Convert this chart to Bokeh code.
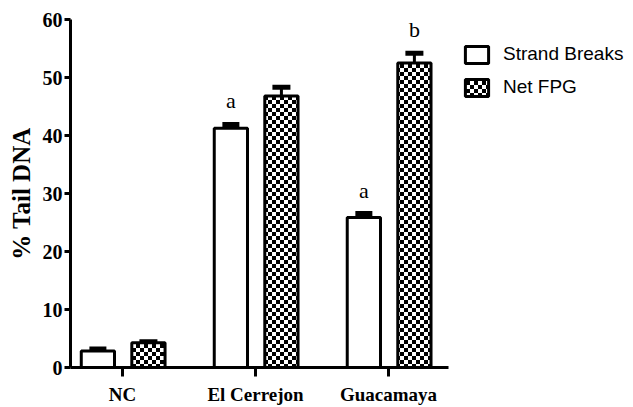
import base64, struct, zlib
from bokeh.plotting import figure
from bokeh.models import (ColumnDataSource, Range1d, FixedTicker, Whisker, TeeHead,
                          LabelSet, Legend, LegendItem, ImageURLTexture)
from bokeh.core.properties import value
from bokeh.embed import file_html
from bokeh.resources import INLINE

# ---- data ----
groups = ["NC", "El Cerrejon", "Guacamaya"]
series = ["Strand Breaks", "Net FPG"]
strand = [2.85, 41.25, 25.85]
strand_err = [0.35, 0.65, 0.7]
fpg = [4.25, 46.8, 52.5]
fpg_err = [0.2, 1.5, 1.7]
strand_letters = ["", "a", "a"]
fpg_letters = ["", "", "b"]
y_ticks = [0, 10, 20, 30, 40, 50, 60]

# ---- checker texture (PNG generated in memory) ----
def make_png(w, h, rows):
    raw = b"".join(b"\x00" + bytes(r) for r in rows)
    def chunk(t, d):
        return struct.pack(">I", len(d)) + t + d + struct.pack(">I", zlib.crc32(t + d) & 0xffffffff)
    return (b"\x89PNG\r\n\x1a\n" + chunk(b"IHDR", struct.pack(">IIBBBBB", w, h, 8, 0, 0, 0, 0))
            + chunk(b"IDAT", zlib.compress(raw)) + chunk(b"IEND", b""))

cell = 4
tile = 2 * cell
rows = [[0 if ((x // cell) + (y // cell)) % 2 == 0 else 255 for x in range(tile)] for y in range(tile)]
checker_url = "data:image/png;base64," + base64.b64encode(make_png(tile, tile, rows)).decode()

xpos = [i + 1 for i in range(len(groups))]
off_s, off_f, bw = -0.185, 0.195, 0.25
x_lo, x_hi = 0.609, 3.451   # visible extent of the x axis line

src_s = ColumnDataSource(dict(x=[v + off_s for v in xpos], top=strand,
                              upper=[a + b for a, b in zip(strand, strand_err)], txt=strand_letters))
src_f = ColumnDataSource(dict(x=[v + off_f for v in xpos], top=fpg,
                              upper=[a + b for a, b in zip(fpg, fpg_err)], txt=fpg_letters))

p = figure(width=633, height=407, output_backend="svg", toolbar_location=None,
           x_range=Range1d(x_lo, 4.82), y_range=Range1d(0, 60),
           min_border_left=70, min_border_right=3, min_border_top=19, min_border_bottom=40)
p.outline_line_color = None
p.grid.visible = False
p.background_fill_color = "white"

r_s = p.vbar(x="x", top="top", width=bw, bottom=0, source=src_s,
             fill_color="white", line_color="black", line_width=3)
r_f = p.vbar(x="x", top="top", width=bw, bottom=0, source=src_f,
             fill_color="white", line_color="black", line_width=3,
             hatch_pattern=value("checker"),
             hatch_extra={"checker": ImageURLTexture(url=checker_url)})

for src, cap in ((src_s, 17), (src_f, 18)):
    w = Whisker(base="x", upper="upper", lower="top", source=src, dimension="height",
                line_color="black", line_width=3,
                upper_head=TeeHead(size=cap, line_width=5, line_color="black"),
                lower_head=None)
    p.add_layout(w)

for src in (src_s, src_f):
    p.add_layout(LabelSet(x="x", y="upper", text="txt", source=src, y_offset=16,
                          text_align="center", text_baseline="alphabetic",
                          text_font=value("Liberation Serif"), text_font_size="22px",
                          text_color="black"))

# axes
p.xaxis.ticker = FixedTicker(ticks=xpos)
p.xaxis.major_label_overrides = {v: g for v, g in zip(xpos, groups)}
p.xaxis.bounds = (x_lo, x_hi)
p.yaxis.ticker = FixedTicker(ticks=y_ticks)
for ax in (p.xaxis[0], p.yaxis[0]):
    ax.axis_line_width = 3
    ax.axis_line_color = "black"
    ax.major_tick_line_width = 3
    ax.major_tick_line_color = "black"
    ax.major_tick_in = 0
    ax.minor_tick_line_color = None
    ax.major_label_text_font = "Liberation Serif"
    ax.major_label_text_font_style = "bold"
    ax.major_label_text_color = "black"
p.xaxis.major_tick_out = 9
p.xaxis.major_label_text_font_size = "19px"
p.xaxis.major_label_standoff = 7
p.yaxis.major_tick_out = 6
p.yaxis.major_label_text_font_size = "20px"
p.yaxis.major_label_standoff = 2
p.yaxis.axis_label = "% Tail DNA"
p.yaxis.axis_label_text_font = "Liberation Serif"
p.yaxis.axis_label_text_font_style = "bold"
p.yaxis.axis_label_text_font_size = "25px"
p.yaxis.axis_label_text_color = "black"
p.yaxis.axis_label_standoff = 5

legend = Legend(items=[LegendItem(label=series[0], renderers=[r_s]),
                       LegendItem(label=series[1], renderers=[r_f])],
                location=(392, 269), glyph_width=29, glyph_height=21,
                label_text_font="Liberation Sans", label_text_font_size="19px",
                label_text_color="black",
                label_standoff=12, spacing=11, padding=0, margin=0,
                border_line_color=None, background_fill_alpha=0)
p.add_layout(legend, "center")

open("out.html", "w").write(file_html(p, INLINE))
